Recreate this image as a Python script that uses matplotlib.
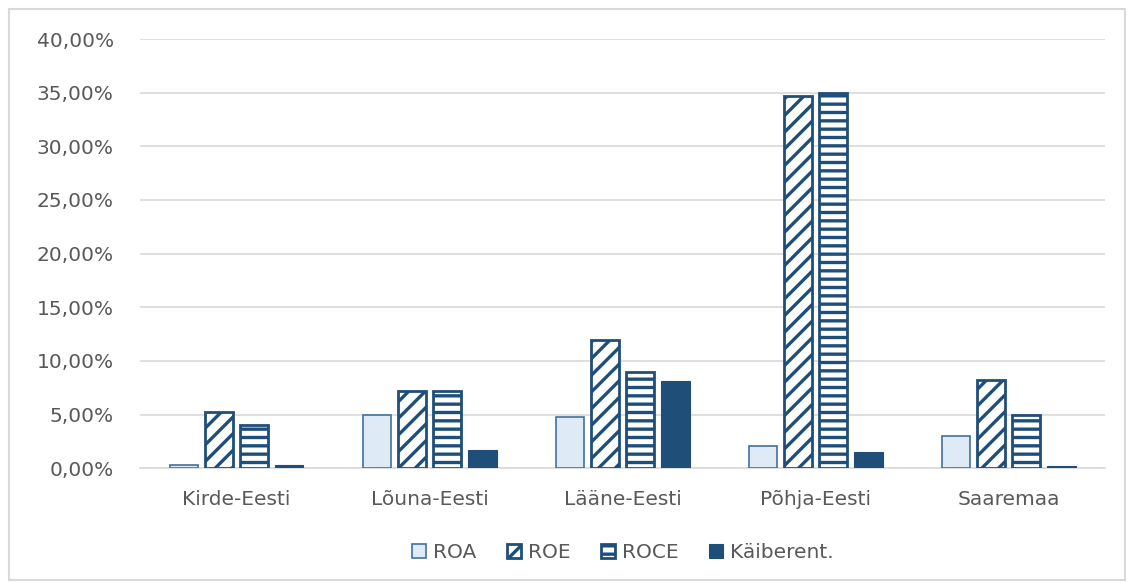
import matplotlib.pyplot as plt
import matplotlib.patches as patches
import numpy as np

regions = ["Kirde-Eesti", "Lõuna-Eesti", "Lääne-Eesti", "Põhja-Eesti", "Saaremaa"]
series = ["ROA", "ROE", "ROCE", "Käiberent."]
roa = [0.25, 5.0, 4.75, 2.05, 3.0]
roe = [5.2, 7.2, 11.9, 34.7, 8.2]
roce = [4.0, 7.2, 9.0, 35.0, 4.95]
kaib = [0.25, 1.7, 8.1, 1.5, 0.2]
yticks = [0, 5, 10, 15, 20, 25, 30, 35, 40]

navy = "#1F4E79"
plt.rcParams['font.family'] = ['DejaVu Sans']
plt.rcParams['hatch.linewidth'] = 2.4

fig = plt.figure(figsize=(11.3, 5.83), dpi=100)
ax = fig.add_axes([0.124, 0.197, 0.854, 0.736])

x = np.arange(len(regions))
slot = 0.182
w = 0.147
styles = [
   dict(facecolor="#DEEBF7", edgecolor="#41719C", hatch=None, linewidth=1.2),
   dict(facecolor="white", edgecolor=navy, hatch="//", linewidth=2.0),
   dict(facecolor="white", edgecolor=navy, hatch="--", linewidth=2.0),
   dict(facecolor=navy, edgecolor=navy, hatch=None, linewidth=0.8),
]
data = [roa, roe, roce, kaib]
for i in range(4):
   ax.bar(x + (i - 1.5) * slot, data[i], w, label=series[i], zorder=3, **styles[i])

ax.set_ylim(0, 40)
ax.set_xlim(-0.5, len(regions) - 0.5)
ax.set_yticks(yticks)
ax.set_yticklabels(["%d,00%%" % t for t in yticks])
ax.set_xticks(x)
ax.set_xticklabels(regions)
ax.tick_params(axis="both", length=0, labelsize=14.5, colors="#595959")
ax.tick_params(axis="y", pad=19)
ax.tick_params(axis="x", pad=16)
ax.yaxis.grid(True, color="#D9D9D9", linewidth=1.2, zorder=0)
for s in ["top", "right", "left"]:
   ax.spines[s].set_visible(False)
ax.spines["bottom"].set_color("#D9D9D9")
ax.spines["bottom"].set_linewidth(1.2)

leg = ax.legend(loc="center", bbox_to_anchor=(0.5, -0.197), ncol=4, frameon=False,
                handlelength=0.7, handleheight=0.7, handletextpad=0.35, columnspacing=1.5,
                fontsize=14.5)
for t in leg.get_texts():
   t.set_color("#595959")

fig.patches.append(patches.Rectangle((0.008, 0.006), 0.988, 0.978, transform=fig.transFigure,
                                     fill=False, edgecolor="#D9D9D9", linewidth=1.5))

fig.savefig("out.png", dpi=100)
